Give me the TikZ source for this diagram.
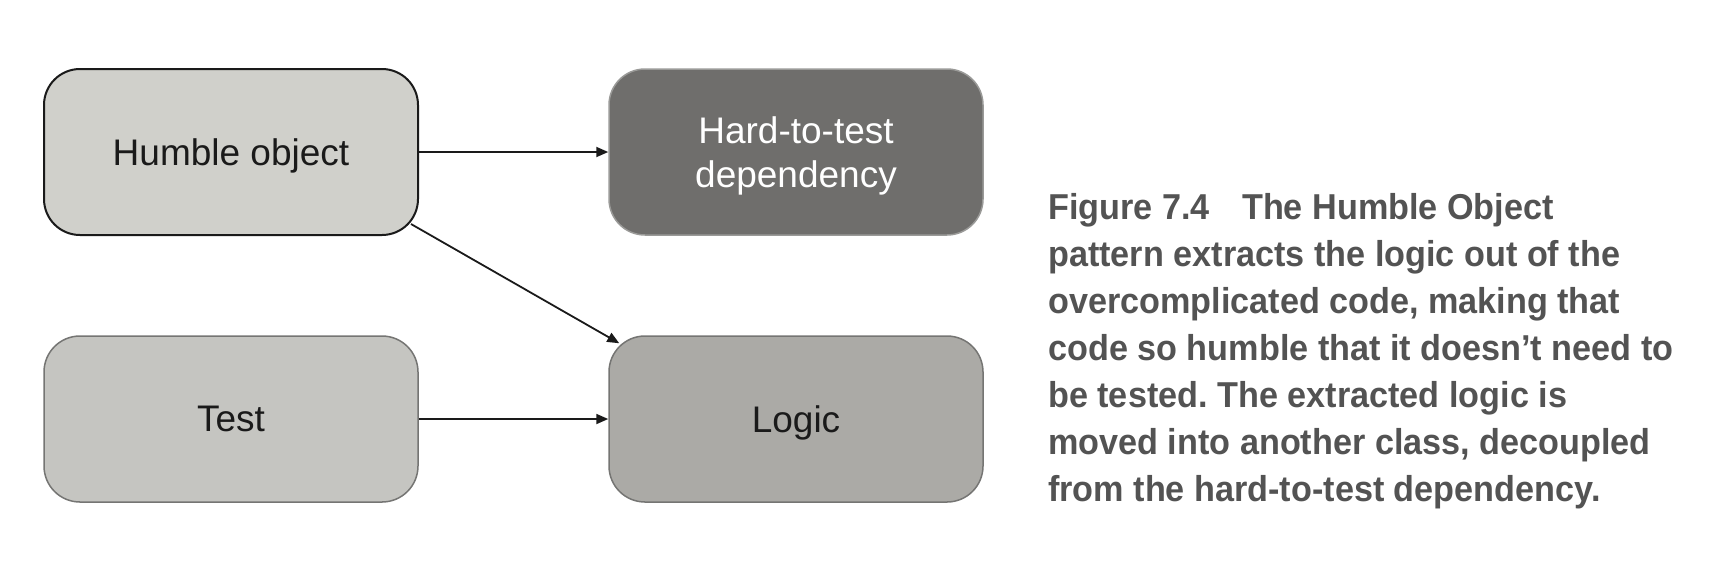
\documentclass[tikz,border=0pt]{standalone}
\usepackage{fontspec}
\setmainfont{Liberation Sans}
\newfontfamily\capfont{Liberation Sans}[FakeStretch=0.95]
\usetikzlibrary{arrows.meta}
\definecolor{humfill}{HTML}{D0D0CB}
\definecolor{hardfill}{HTML}{6F6E6C}
\definecolor{hardline}{HTML}{9A9A98}
\definecolor{testfill}{HTML}{C5C5C1}
\definecolor{logicfill}{HTML}{ABAAA6}
\definecolor{boxline}{HTML}{757573}
\definecolor{captext}{HTML}{535353}
\definecolor{ink}{HTML}{1A1A1A}
\frenchspacing
\tikzset{
  box/.style={rectangle, rounded corners=36pt, minimum width=374pt, minimum height=166pt,
    align=center, text=ink, font=\fontsize{37}{44}\selectfont, inner sep=0pt, text depth=0pt},
  conn/.style={draw=ink, line width=1.8pt, -{Triangle[length=12pt,width=10pt]}}
}
\begin{document}
\begin{tikzpicture}[x=1pt,y=-1pt]
\useasboundingbox (0,0) rectangle (1712,566);
\node[box, fill=humfill, draw=ink, line width=2pt] (hum) at (231,152) {Humble object};
\node[box, fill=hardfill, draw=hardline, line width=1.5pt, text=white] (hard) at (796,152) {Hard-to-test\\dependency};
\node[box, fill=testfill, draw=boxline, line width=1.5pt] (test) at (231,419) {Test};
\node[box, fill=logicfill, draw=boxline, line width=1.5pt] (logic) at (796,419) {Logic};
\draw[conn] (hum.east) -- (hard.west);
\draw[conn] (test.east) -- (logic.west);
\draw[conn] ([xshift=-8pt,yshift=12pt]hum.south east) -- ([xshift=11pt,yshift=-8pt]logic.north west);
\node[anchor=north west, align=left, inner sep=0pt, text=captext,
  font=\capfont\bfseries\fontsize{36}{47}\selectfont] (cap) at (1048,193)
  {Figure 7.4\hspace{0.9em}The Humble Object\\
   pattern extracts the logic out of the\\
   overcomplicated code, making that\\
   code so humble that it doesn’t need to\\
   be tested. The extracted logic is\\
   moved into another class, decoupled\\
   from the hard-to-test dependency.};
\end{tikzpicture}
\end{document}
